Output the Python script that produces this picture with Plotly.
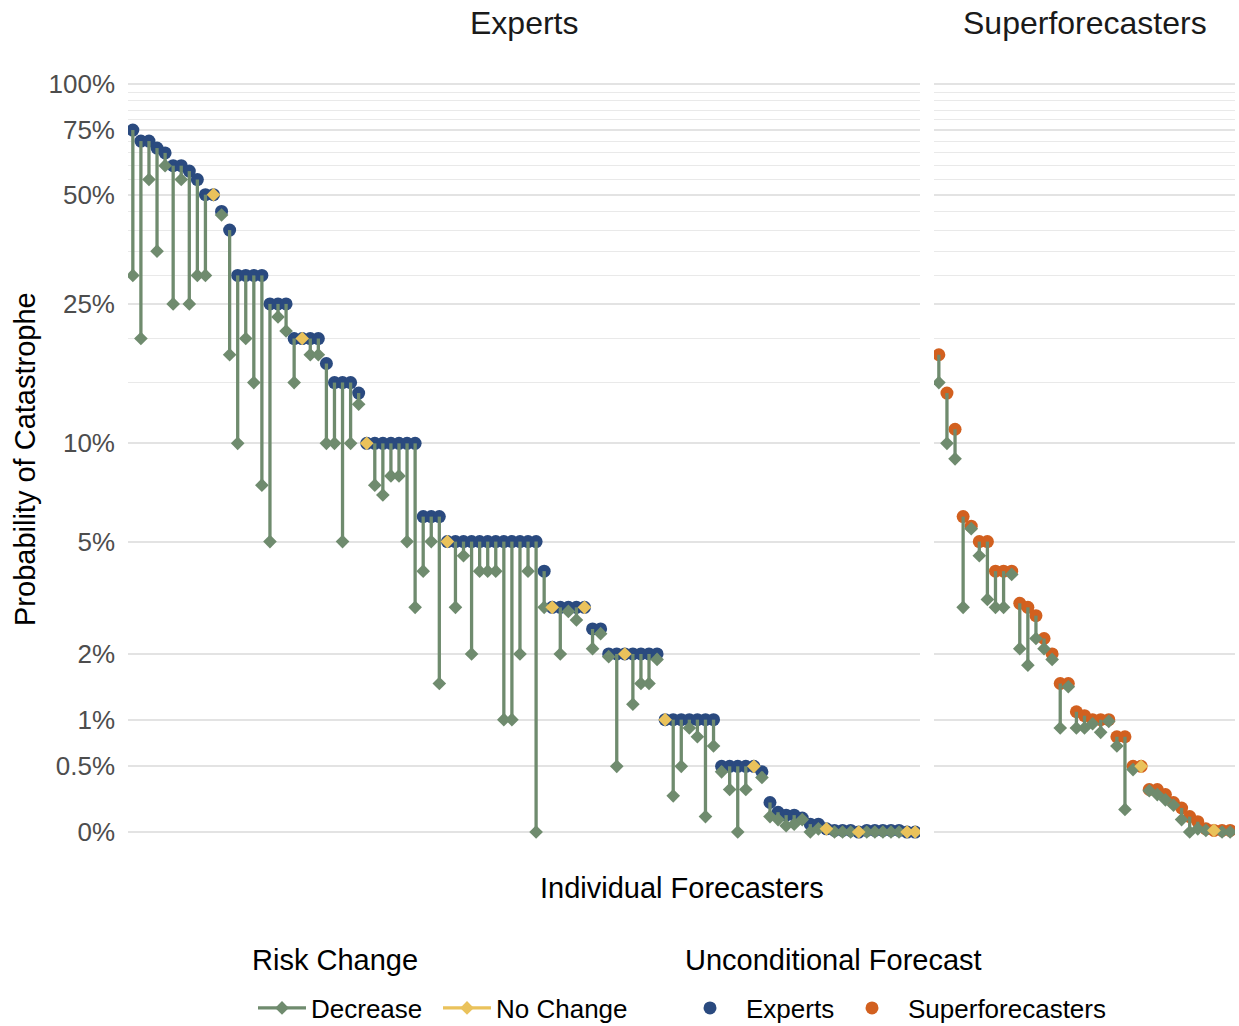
import numpy as np
import plotly.graph_objects as go

# ---------------- data (percent) ----------------
experts_uncond = [75, 70, 70, 67, 65, 60, 60, 58, 55, 50, 50, 45, 40, 30, 30, 30, 30, 25, 25, 25,
                  20, 20, 20, 20, 17, 15, 15, 15, 14, 10, 10, 10, 10, 10, 10, 10, 6, 6, 6, 5,
                  5, 5, 5, 5, 5, 5, 5, 5, 5, 5, 5, 4, 3, 3, 3, 3, 3, 2.5, 2.5, 2,
                  2, 2, 2, 2, 2, 2, 1, 1, 1, 1, 1, 1, 1, 0.5, 0.5, 0.5, 0.5, 0.5, 0.45, 0.2,
                  0.13, 0.11, 0.11, 0.09, 0.05, 0.05, 0.02, 0.01, 0.01, 0.01, 0, 0.01, 0.01, 0.01, 0.01, 0.01,
                  0, 0]
experts_cond = [30, 20, 55, 35, 60, 25, 55, 25, 30, 30, 50, 44, 18, 10, 20, 15, 7.5, 5, 23, 21,
                15, 20, 18, 18, 10, 10, 5, 10, 13, 10, 7.5, 7, 8, 8, 5, 3, 4, 5, 1.5, 5,
                3, 4.5, 2, 4, 4, 4, 1, 1, 2, 4, 0, 3, 3, 2, 2.9, 2.7, 3, 2.1, 2.4, 1.95,
                0.5, 2, 1.2, 1.5, 1.5, 1.9, 1, 0.25, 0.5, 0.9, 0.8, 0.1, 0.7, 0.45, 0.3, 0, 0.3, 0.5, 0.4, 0.1,
                0.08, 0.04, 0.05, 0.08, 0, 0.02, 0.02, 0, 0, 0, 0, 0, 0, 0, 0, 0,
                0, 0]
supers_uncond = [18, 14, 11, 6, 5.6, 5, 5, 4, 4, 4, 3.1, 3, 2.8, 2.3, 2, 1.5, 1.5, 1.1, 1.05, 1.0,
                 1.0, 1.0, 0.8, 0.8, 0.5, 0.5, 0.3, 0.3, 0.26, 0.2, 0.16, 0.1, 0.066, 0.02, 0.01, 0.01, 0.01]
supers_cond = [15, 10, 9, 3, 5.5, 4.5, 3.2, 3, 3, 3.9, 2.1, 1.8, 2.3, 2.1, 1.9, 0.9, 1.45, 0.9, 0.9, 0.95,
               0.85, 0.98, 0.7, 0.15, 0.47, 0.5, 0.29, 0.26, 0.22, 0.18, 0.08, 0.0, 0.02, 0.01, 0.01, 0, 0]

tick_pcts = [0, 0.5, 1, 2, 5, 10, 25, 50, 75, 100]
tick_labels = ["0%", "0.5%", "1%", "2%", "5%", "10%", "25%", "50%", "75%", "100%"]
minor_pcts = [15, 20, 30, 35, 40, 45, 55, 60, 65, 70, 80, 85, 90, 95]

panel_names = ["Experts", "Superforecasters"]
change_labels = ["Decrease", "No Change"]

# ---------------- styles ----------------
GREEN = "#6F8B6E"
YELLOW = "#EAC25B"
BLUE = "#2A4A7F"
ORANGE = "#D2601F"
FONT = "Liberation Sans"


def tr(p):
    return np.log1p(np.asarray(p, dtype=float))


fig = go.Figure()

panels = [
    (experts_uncond, experts_cond, BLUE, "x", "y", panel_names[0], "legend3"),
    (supers_uncond, supers_cond, ORANGE, "x2", "y2", panel_names[1], "legend4"),
]

for unc, cond, col, xa, ya, name, leg in panels:
    unc = np.asarray(unc, float)
    cond = np.asarray(cond, float)
    n = len(unc)
    xs = np.arange(1, n + 1)
    nochange = np.isclose(unc, cond)

    # unconditional circles
    fig.add_trace(go.Scatter(
        x=xs, y=tr(unc), mode="markers", xaxis=xa, yaxis=ya,
        marker=dict(color=col, size=13, symbol="circle"),
        name=name, legend=leg, showlegend=True, hoverinfo="skip"))

    # segments for decreases
    sx, sy = [], []
    for i in range(n):
        if not nochange[i]:
            sx += [xs[i], xs[i], None]
            sy += [tr(unc[i]), tr(cond[i]), None]
    fig.add_trace(go.Scatter(
        x=sx, y=sy, mode="lines", xaxis=xa, yaxis=ya,
        line=dict(color=GREEN, width=3.3), showlegend=False, hoverinfo="skip"))

    # conditional diamonds
    for mask, c in [(~nochange, GREEN), (nochange, YELLOW)]:
        fig.add_trace(go.Scatter(
            x=xs[mask], y=tr(cond[mask]), mode="markers", xaxis=xa, yaxis=ya,
            marker=dict(color=c, size=10.5, symbol="diamond"),
            showlegend=False, hoverinfo="skip"))

# legend-only entries for risk change
for lab, c, leg in zip(change_labels, [GREEN, YELLOW], ["legend", "legend2"]):
    fig.add_trace(go.Scatter(
        x=[None], y=[None], mode="lines+markers", name=lab, legend=leg,
        line=dict(color=c, width=3.3), marker=dict(color=c, size=10.5, symbol="diamond")))

W, H = 1239, 1026
ML, MR, MT, MB = 128, 4, 47, 157
pw = W - ML - MR
ph = H - MT - MB


def px_x(p):
    return (p - ML) / pw


def px_y(p):
    return (MT + ph - p) / ph


exp_dom = [0, px_x(920)]
sup_dom = [px_x(934), 1]

yrange = [-0.228, 4.843]
common_y = dict(
    range=yrange, tickmode="array", tickvals=tr(tick_pcts), ticktext=tick_labels,
    showgrid=True, gridcolor="#E3E3E3", gridwidth=1.6, zeroline=False, showline=False,
    ticks="", fixedrange=True,
    minor=dict(tickmode="array", tickvals=tr(minor_pcts), showgrid=True,
               gridcolor="#E9E9E9", gridwidth=1.2, ticks=""),
)


def leg(xpx, iw):
    return dict(orientation="h", x=px_x(xpx), xanchor="left", y=px_y(1008), yanchor="middle",
                font=dict(family=FONT, size=26), itemwidth=iw, bgcolor="rgba(0,0,0,0)")


fig.update_layout(
    width=W, height=H,
    margin=dict(l=ML, r=MR, t=MT, b=MB, autoexpand=False),
    paper_bgcolor="white", plot_bgcolor="white",
    font=dict(family=FONT, size=26, color="#000000"),
    xaxis=dict(domain=exp_dom, range=[0.4, len(experts_uncond) + 0.6], showgrid=False,
               zeroline=False, showticklabels=False, ticks="", showline=False),
    xaxis2=dict(domain=sup_dom, range=[0.4, len(supers_uncond) + 0.6], showgrid=False,
                zeroline=False, showticklabels=False, ticks="", showline=False),
    yaxis=dict(**common_y, showticklabels=True, ticklabelstandoff=12,
               tickfont=dict(family=FONT, size=26, color="#4D4D4D")),
    yaxis2=dict(**common_y, anchor="x2", showticklabels=False),
    legend=leg(253, 48),
    legend2=leg(438, 48),
    legend3=leg(674, 62),
    legend4=leg(836, 62),
    showlegend=True,
)

annotations = []
for name, dom in zip(panel_names, [exp_dom, sup_dom]):
    annotations.append(dict(
        text=name, x=(dom[0] + dom[1]) / 2, y=px_y(23), xref="paper", yref="paper",
        xanchor="center", yanchor="middle", showarrow=False,
        font=dict(family=FONT, size=32, color="#1A1A1A")))
annotations.append(dict(
    text="Individual Forecasters", x=0.5, y=px_y(888), xref="paper", yref="paper",
    xanchor="center", yanchor="middle", showarrow=False,
    font=dict(family=FONT, size=29, color="#000000")))
annotations.append(dict(
    text="Probability of Catastrophe", x=px_x(25), y=px_y(459), xref="paper",
    yref="paper", xanchor="center", yanchor="middle", textangle=-90, showarrow=False,
    font=dict(family=FONT, size=29, color="#000000")))
# legend titles
for title, xpx in [("Risk Change", 250), ("Unconditional Forecast", 683)]:
    annotations.append(dict(
        text=title, x=px_x(xpx), y=px_y(960), xref="paper", yref="paper",
        xanchor="left", yanchor="middle", showarrow=False,
        font=dict(family=FONT, size=29, color="#000000")))
fig.update_layout(annotations=annotations)

fig.write_html(
    "out.html",
    config={"displayModeBar": False},
    post_script="document.body.style.margin='0';document.body.style.overflow='hidden';",
)
